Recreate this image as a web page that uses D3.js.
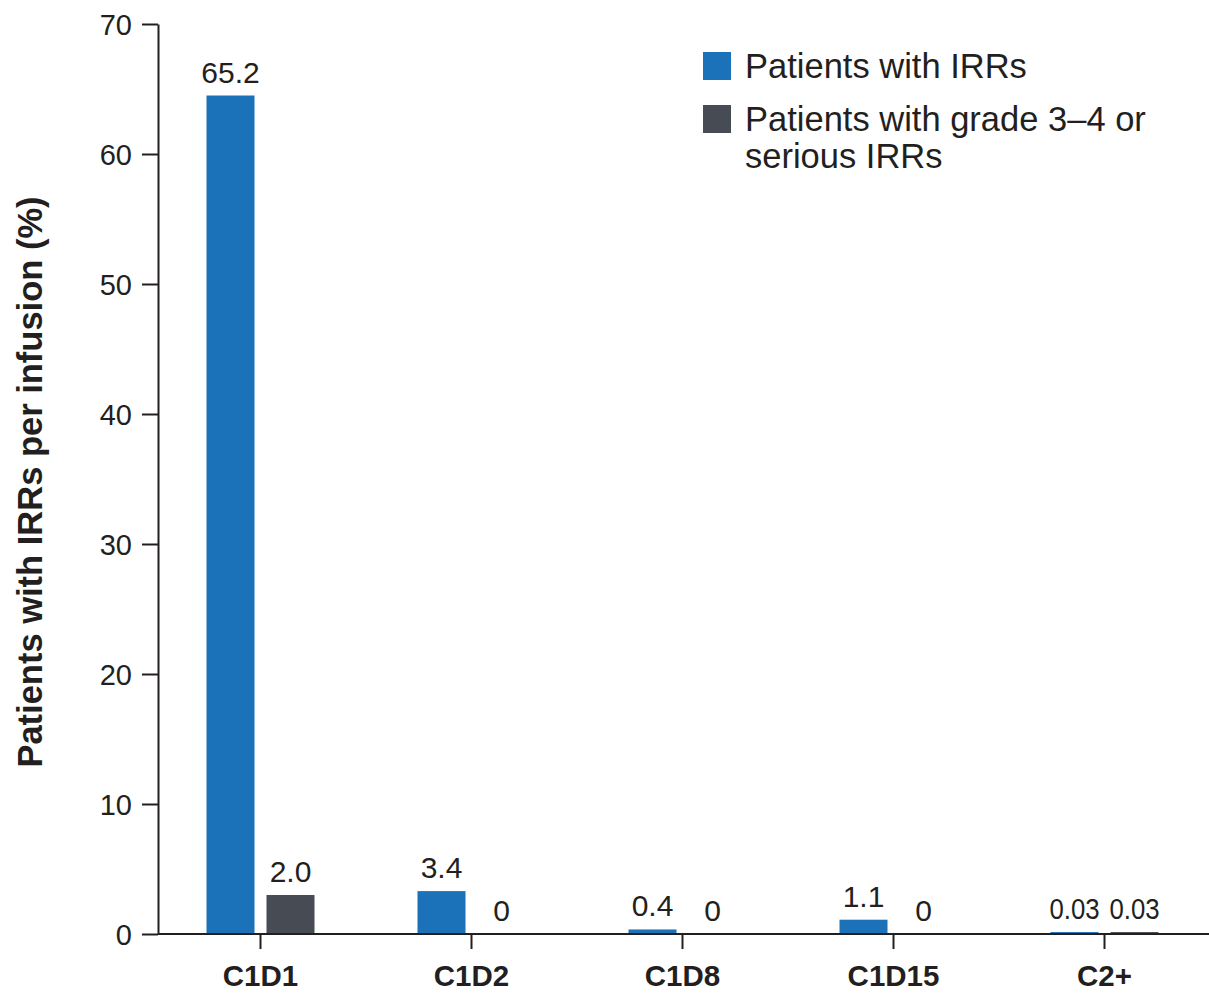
<!DOCTYPE html>
<html lang="en">
<head>
    <meta charset="UTF-8">
    <title>IRRs per infusion</title>
    <script src="https://d3js.org/d3.v7.min.js"></script>
    <style>
        html, body {
            margin: 0;
            padding: 0;
            background: #fff;
        }
        svg {
            display: block;
            font-family: "Liberation Sans", Arial, sans-serif;
        }
    </style>
</head>
<body>
    <svg id="chart" width="1209" height="994"></svg>

    <script>
        // data
        const categories = ["C1D1", "C1D2", "C1D8", "C1D15", "C2+"];
        const seriesNames = ["Patients with IRRs", "Patients with grade 3\u20134 or serious IRRs"];
        // printed values
        const irrLabels = ["65.2", "3.4", "0.4", "1.1", "0.03"];
        const severeLabels = ["2.0", "0", "0", "0", "0.03"];
        // bar heights as drawn in the figure
        const irrBars = [64.5, 3.3, 0.35, 1.1, 0.15];
        const severeBars = [3.0, 0, 0, 0, 0.15];
        const yTicks = [0, 10, 20, 30, 40, 50, 60, 70];

        const colors = ["#1b72b9", "#474b53"];
        const ink = "#231f20";

        const svg = d3.select("#chart");

        const y = d3.scaleLinear().domain([0, 70]).range([934, 24]);
        const x = d3.scaleBand().domain(categories).range([155, 1210]);
        const inner = d3.scaleBand().domain([0, 1]).range([-54, 54]).paddingInner(0.2);

        const rows = categories.map((c, i) => ({
            cat: c,
            bars: [
                { s: 0, v: irrBars[i], label: irrLabels[i] },
                { s: 1, v: severeBars[i], label: severeLabels[i] }
            ]
        }));

        const groups = svg.selectAll("g.cat")
            .data(rows)
            .enter()
            .append("g")
            .attr("class", "cat")
            .attr("transform", d => `translate(${x(d.cat) + x.bandwidth() / 2},0)`);

        groups.selectAll("rect")
            .data(d => d.bars.filter(b => b.v > 0))
            .enter()
            .append("rect")
            .attr("x", b => inner(b.s))
            .attr("width", inner.bandwidth())
            .attr("y", b => y(b.v))
            .attr("height", b => y(0) - y(b.v))
            .attr("fill", b => colors[b.s]);

        groups.selectAll("text")
            .data(d => d.bars)
            .enter()
            .append("text")
            .attr("text-anchor", "middle")
            .attr("font-size", 30)
            .attr("fill", ink)
            .attr("transform", b => {
                const cx = inner(b.s) + inner.bandwidth() / 2;
                const sx = +b.label > 0 && +b.label < 0.1 ? 0.86 : 1; // the 0.03 labels are squeezed
                return `translate(${cx},${y(b.v) - 13}) scale(${sx},1)`;
            })
            .text(b => b.label);

        // y axis
        const yAxis = svg.append("g")
            .attr("transform", "translate(158,0)")
            .call(d3.axisLeft(y).tickValues(yTicks).tickSize(16).tickPadding(10).tickSizeOuter(0));
        yAxis.select(".domain").attr("stroke", ink).attr("stroke-width", 2);
        yAxis.selectAll(".tick line").attr("stroke", ink).attr("stroke-width", 2);
        yAxis.selectAll(".tick text")
            .attr("font-size", 29)
            .attr("font-family", "Liberation Sans, Arial, sans-serif")
            .attr("fill", ink)
            .attr("dy", "0.35em");

        // x axis
        const xAxis = svg.append("g")
            .attr("transform", `translate(0,${y(0)})`)
            .call(d3.axisBottom(x).tickSize(15).tickPadding(16).tickSizeOuter(0));
        xAxis.select(".domain")
            .attr("d", "M158,0H1209")
            .attr("stroke", ink)
            .attr("stroke-width", 2);
        xAxis.selectAll(".tick line").attr("stroke", ink).attr("stroke-width", 2);
        xAxis.selectAll(".tick text")
            .attr("font-size", 29.5)
            .attr("font-weight", "bold")
            .attr("font-family", "Liberation Sans, Arial, sans-serif")
            .attr("fill", ink);

        // y title
        svg.append("text")
            .attr("transform", "translate(42,482) rotate(-90)")
            .attr("text-anchor", "middle")
            .attr("font-size", 34.5)
            .attr("font-weight", "bold")
            .attr("fill", ink)
            .text("Patients with IRRs per infusion (%)");

        // legend
        const legend = svg.append("g").attr("transform", "translate(703,52)");
        const legendLines = [["Patients with IRRs"], ["Patients with grade 3\u20134 or", "serious IRRs"]];
        legendLines.forEach((lines, i) => {
            const g = legend.append("g").attr("transform", `translate(0,${i * 53})`);
            g.append("rect")
                .attr("width", 28)
                .attr("height", 28)
                .attr("fill", colors[i]);
            g.append("text")
                .attr("x", 42)
                .attr("y", 26)
                .attr("font-size", 34.5)
                .attr("fill", ink)
                .selectAll("tspan")
                .data(lines)
                .enter()
                .append("tspan")
                .attr("x", 42)
                .attr("dy", (d, j) => j === 0 ? 0 : 37)
                .text(d => d);
        });
    </script>
</body>
</html>
